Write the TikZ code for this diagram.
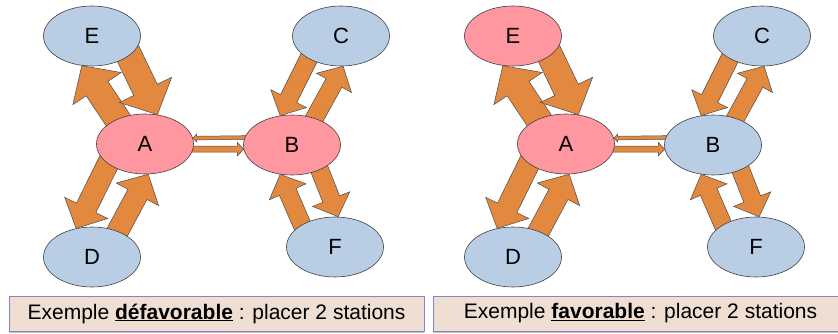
\documentclass[tikz,border=0pt]{standalone}
\usepackage{fontspec}
\setmainfont{Liberation Sans}
\usetikzlibrary{shapes.geometric,calc,backgrounds,shadows}

\definecolor{stationpink}{HTML}{FF97A0}
\definecolor{stationblue}{HTML}{B9CDE5}
\definecolor{floworange}{HTML}{E3883F}
\definecolor{capfill}{HTML}{EFDFD3}
\definecolor{capline}{HTML}{8585C4}

\tikzset{
  station/.style={ellipse, draw=black!75, line width=0.6pt, minimum width=97pt,
    minimum height=60pt, inner sep=0pt, font=\fontsize{22}{24}\selectfont},
  blockflow/.style={fill=floworange, draw=black!70, line width=0.5pt, line join=miter},
  capbox/.style={draw=capline, fill=capfill, line width=0.8pt, minimum width=415pt,
    minimum height=35pt, inner sep=0pt, font=\fontsize{21}{23}\selectfont,
    drop shadow={shadow xshift=0pt, shadow yshift=-1.5pt, fill=black!40, opacity=0.6}}
}

% block arrow: #1 size factor, #2 tail anchor, #3 tip anchor
\newcommand{\blockarrow}[3]{%
  \coordinate (ba-t) at ($(#2)!-8pt!(#3)$);
  \coordinate (ba-h) at ($(#3)!#1*19pt!(ba-t)$);
  \filldraw[blockflow]
    ($(ba-t)!#1*9pt!90:(#3)$) -- ($(ba-h)!#1*9pt!-90:(ba-t)$)
    -- ($(ba-h)!#1*20pt!-90:(ba-t)$) -- (#3)
    -- ($(ba-h)!#1*20pt!90:(ba-t)$) -- ($(ba-h)!#1*9pt!90:(ba-t)$)
    -- ($(ba-t)!#1*9pt!-90:(#3)$) -- cycle;
}

\begin{document}
\begin{tikzpicture}[x=1pt, y=-1pt]
  \useasboundingbox (0,0) rectangle (838,334);
  \foreach \p/\dx/\cx/\bcol/\ecol/\word in
      {l/0/216.5/stationpink/stationblue/défavorable,
       r/421/640.5/stationblue/stationpink/favorable} {
    % stations
    \node[station, fill=stationpink] (\p A) at (145+\dx,144) {A};
    \node[station, fill=\bcol] (\p B) at (292+\dx,145) {B};
    \node[station, fill=stationblue] (\p C) at (341+\dx,36) {C};
    \node[station, fill=stationblue] (\p D) at (92+\dx,257) {D};
    \node[station, fill=\ecol] (\p E) at (92+\dx,36) {E};
    \node[station, fill=stationblue] (\p F) at (335+\dx,247) {F};
    % flows, drawn under the stations
    \begin{scope}[on background layer]
      \blockarrow{1.45}{\p A.138}{\p E.251}
      \blockarrow{1.45}{\p E.332}{\p A.67}
      \blockarrow{1.2}{\p A.208}{\p D.119}
      \blockarrow{1.2}{\p D.45}{\p A.276}
      \blockarrow{1}{\p C.215}{\p B.112}
      \blockarrow{1}{\p B.50}{\p C.274}
      \blockarrow{1}{\p F.146}{\p B.248}
      \blockarrow{1}{\p B.318}{\p F.84}
      % thin link between A and B
      \blockarrow{0.2}{\p B.171}{\p A.7}
      \blockarrow{0.33}{\p A.354}{\p B.185}
    \end{scope}
    % caption
    \node[capbox] (\p cap) at (\cx,313.5) {Exemple \underline{\textbf{\word}} : placer 2 stations};
  }
\end{tikzpicture}
\end{document}
